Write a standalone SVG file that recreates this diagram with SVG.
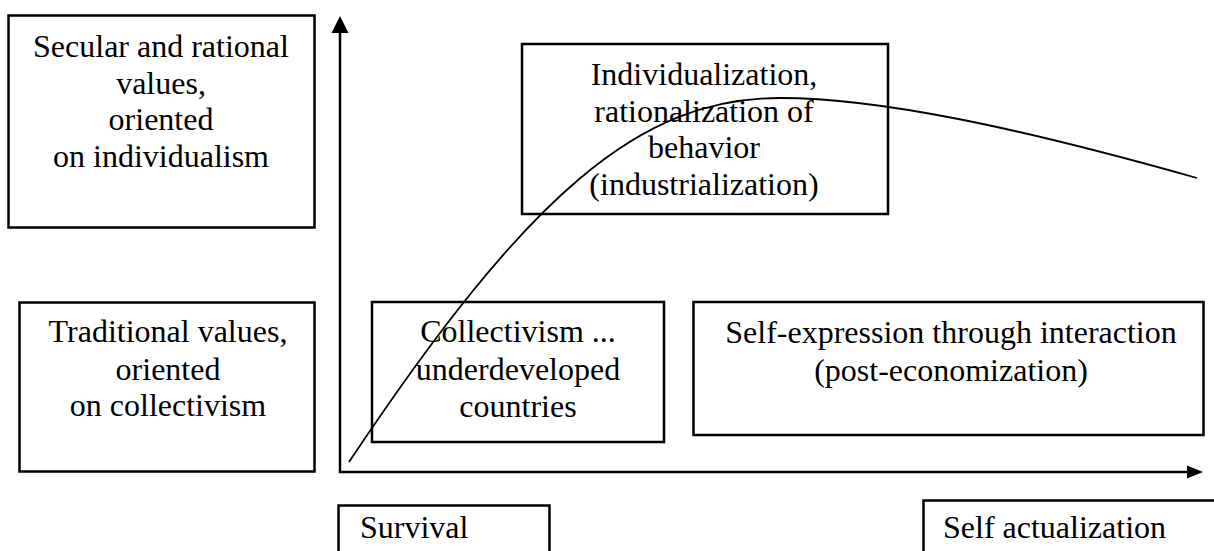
<svg xmlns="http://www.w3.org/2000/svg" width="1214" height="551" viewBox="0 0 1214 551">
<style>
.box{fill:none;stroke:#000;stroke-width:2.5}
.t{font-family:"Liberation Serif","Times New Roman",serif;font-size:32px;fill:#000}
.m{text-anchor:middle}
.ax{stroke:#000;stroke-width:2.5;fill:none}
.cv{stroke:#000;stroke-width:1.8;fill:none}
</style>
<rect width="1214" height="551" fill="#fff"/>
<g id="connectors">
<path class="ax" d="M340,32 V472 H1188"/>
<path d="M340,16 L331.5,33 L348.5,33 Z" fill="#000"/>
<path d="M1203,472 L1187,465.5 L1187,478.5 Z" fill="#000"/>
<path class="cv" d="M349,462 C529,192 640,98 780,98 C880,98 1020,128 1197,178"/>
</g>
<g id="secular">
<rect class="box" x="8.5" y="15.5" width="306" height="212"/>
<text class="t m" x="161" y="57">Secular and rational</text>
<text class="t m" x="161" y="94">values,</text>
<text class="t m" x="161" y="130">oriented</text>
<text class="t m" x="161" y="167">on individualism</text>
</g>
<g id="traditional">
<rect class="box" x="19.5" y="302.5" width="295" height="169"/>
<text class="t m" x="168" y="342">Traditional values,</text>
<text class="t m" x="168" y="380">oriented</text>
<text class="t m" x="168" y="416">on collectivism</text>
</g>
<g id="individualization">
<rect class="box" x="522" y="44" width="366" height="170"/>
<text class="t m" x="704" y="85">Individualization,</text>
<text class="t m" x="704" y="122">rationalization of</text>
<text class="t m" x="704" y="158">behavior</text>
<text class="t m" x="704" y="195">(industrialization)</text>
</g>
<g id="collectivism">
<rect class="box" x="372" y="302" width="292" height="140"/>
<text class="t m" x="518" y="342">Collectivism ...</text>
<text class="t m" x="518" y="380">underdeveloped</text>
<text class="t m" x="518" y="417">countries</text>
</g>
<g id="selfexpression">
<rect class="box" x="693.5" y="302" width="510" height="133"/>
<text class="t m" x="951" y="343">Self-expression through interaction</text>
<text class="t m" x="951" y="381">(post-economization)</text>
</g>
<g id="survival">
<rect class="box" x="338.5" y="505.5" width="211" height="60"/>
<text class="t" x="360" y="538">Survival</text>
</g>
<g id="selfactualization">
<rect class="box" x="923.5" y="500.5" width="310" height="70"/>
<text class="t" x="943" y="538">Self actualization</text>
</g>
</svg>
